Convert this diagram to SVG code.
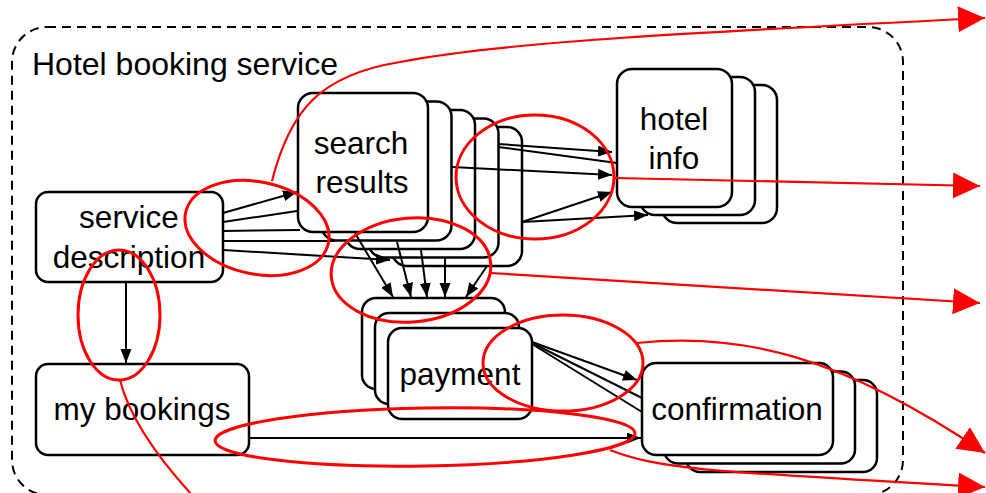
<svg xmlns="http://www.w3.org/2000/svg" width="986" height="493" viewBox="0 0 986 493">
<defs>
<style>
.box{fill:#fff;stroke:#000;stroke-width:2.5}
.lbl{font-family:"Liberation Sans",Arial,sans-serif;font-size:31.5px;fill:#000;text-anchor:middle}
.title{font-family:"Liberation Sans",Arial,sans-serif;font-size:32px;fill:#000}
.con{fill:none;stroke:#000;stroke-width:2}
.red{fill:none;stroke:#f00;stroke-width:3}
.redl{fill:none;stroke:#f00;stroke-width:2.2}
</style>
<marker id="ah" markerUnits="userSpaceOnUse" markerWidth="15" markerHeight="12" refX="14" refY="5.5" orient="auto">
<path d="M0,0 L14,5.5 L0,11 z" fill="#000"/>
</marker>
<marker id="rh" markerUnits="userSpaceOnUse" markerWidth="28" markerHeight="28" refX="27" refY="13" orient="auto">
<path d="M0,0 L27,13 L0,26 z" fill="#f00"/>
</marker>
</defs>
<rect x="12" y="27" width="891" height="468" rx="35" fill="none" stroke="#000" stroke-width="2" stroke-dasharray="9,6"/>
<text class="title" x="32" y="75">Hotel booking service</text>

<g id="hotel-info">
<rect class="box" x="662" y="85" width="115" height="138" rx="15"/>
<rect class="box" x="640" y="77" width="115" height="138" rx="15"/>
<rect class="box" x="617" y="69" width="115" height="138" rx="15"/>
<text class="lbl" x="674" y="130">hotel</text>
<text class="lbl" x="674" y="169">info</text>
</g>

<g id="search-results">
<rect class="box" x="392" y="127" width="130" height="139" rx="15"/>
<rect class="box" x="368.5" y="118.5" width="130" height="139" rx="15"/>
<rect class="box" x="345" y="110" width="130" height="139" rx="15"/>
<rect class="box" x="321.5" y="101.5" width="130" height="139" rx="15"/>
<rect class="box" x="298" y="93" width="130" height="139" rx="15"/>
<text class="lbl" x="361" y="154">search</text>
<text class="lbl" x="362" y="193">results</text>
</g>

<g id="service-description">
<rect class="box" x="36" y="192" width="187" height="90" rx="12"/>
<text class="lbl" x="129" y="228">service</text>
<text class="lbl" x="129" y="268">description</text>
</g>

<g id="my-bookings">
<rect class="box" x="36" y="364" width="213" height="91" rx="12"/>
<text class="lbl" x="142" y="420">my bookings</text>
</g>

<g id="payment">
<rect class="box" x="362" y="298" width="143" height="91" rx="14"/>
<rect class="box" x="375" y="313" width="144" height="91" rx="14"/>
<rect class="box" x="388" y="328" width="144" height="91" rx="14"/>
<text class="lbl" x="460" y="385">payment</text>
</g>

<g id="confirmation">
<rect class="box" x="686" y="380" width="191" height="92" rx="14"/>
<rect class="box" x="664" y="371.5" width="191" height="92" rx="14"/>
<rect class="box" x="642" y="363" width="191" height="92" rx="14"/>
<text class="lbl" x="737" y="420">confirmation</text>
</g>

<g id="connectors">
<path class="con" d="M223,213 L297,192" marker-end="url(#ah)"/>
<path class="con" d="M223,222 L297,211"/>
<path class="con" d="M223,231 L300,230"/>
<path class="con" d="M223,241 L335,241"/>
<path class="con" d="M223,250 L390,260" marker-end="url(#ah)"/>
<path class="con" d="M126,282 L126,363" marker-end="url(#ah)"/>
<path class="con" d="M498,144 L612,152" marker-end="url(#ah)"/>
<path class="con" d="M498,147 L617,163"/>
<path class="con" d="M452,167 L612,175" marker-end="url(#ah)"/>
<path class="con" d="M522,222 L612,192" marker-end="url(#ah)"/>
<path class="con" d="M522,222 L648,215" marker-end="url(#ah)"/>
<path class="con" d="M355,233 L393,297" marker-end="url(#ah)"/>
<path class="con" d="M397,242 L411,297" marker-end="url(#ah)"/>
<path class="con" d="M421,250 L427,297" marker-end="url(#ah)"/>
<path class="con" d="M445,258 L445,297" marker-end="url(#ah)"/>
<path class="con" d="M487,266 L466,297" marker-end="url(#ah)"/>
<path class="con" d="M532,342 L637,380" marker-end="url(#ah)"/>
<path class="con" d="M532,343 L642,398"/>
<path class="con" d="M532,344 L642,412"/>
<path class="con" d="M249,438 L641,438" marker-end="url(#ah)"/>
</g>

<g id="annotations">
<ellipse class="red" cx="257" cy="228" rx="73" ry="46" transform="rotate(12 257 228)"/>
<ellipse class="red" cx="119" cy="315" rx="41" ry="65"/>
<ellipse class="red" cx="411" cy="270" rx="80" ry="52" transform="rotate(-5 411 270)"/>
<ellipse class="red" cx="535" cy="177" rx="79" ry="62"/>
<ellipse class="red" cx="563" cy="363" rx="80" ry="48"/>
<ellipse class="red" cx="425" cy="437" rx="210" ry="29" transform="rotate(-1 425 437)"/>
<path class="redl" d="M272,181 C290,110 320,75 400,62 C500,42 700,32 985,18" marker-end="url(#rh)"/>
<path class="redl" d="M615,178 L980,186" marker-end="url(#rh)"/>
<path class="redl" d="M490,273 L980,303" marker-end="url(#rh)"/>
<path class="redl" d="M637,343 C740,332 840,355 985,453" marker-end="url(#rh)"/>
<path class="redl" d="M610,450 C660,470 720,472 985,487" marker-end="url(#rh)"/>
<path class="redl" d="M120,380 C130,420 160,460 192,495"/>
</g>
</svg>
